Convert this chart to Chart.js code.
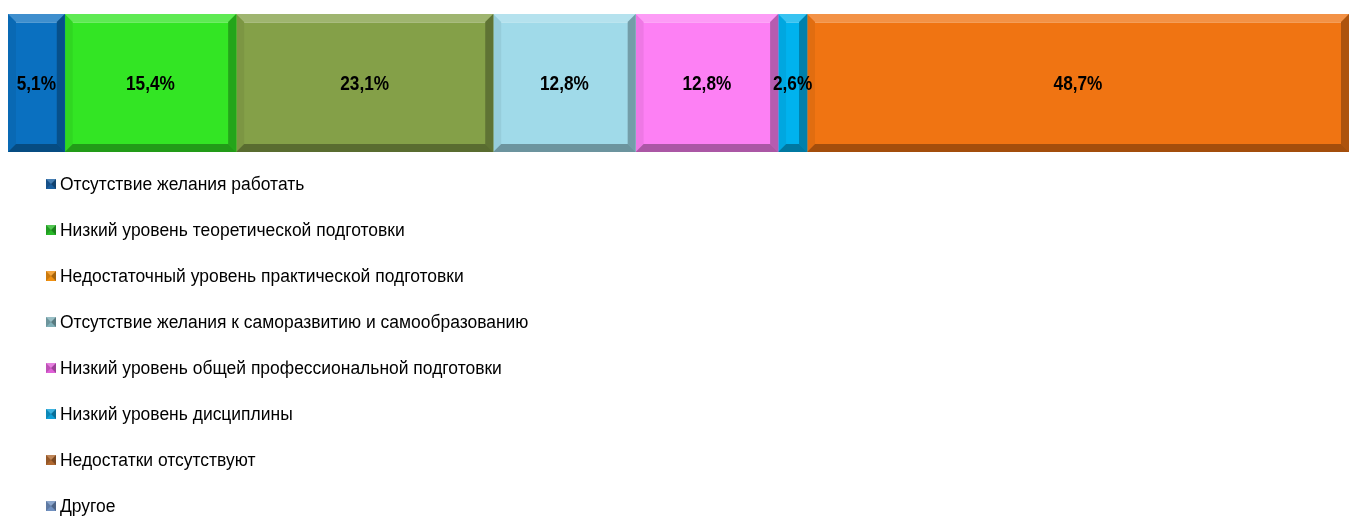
<!DOCTYPE html>
<html>
<head>
<meta charset="utf-8">
<script src="https://cdn.jsdelivr.net/npm/chart.js@4/dist/chart.umd.min.js"></script>
<style>
    html, body { margin: 0; padding: 0; background: #ffffff; }
    #wrap { width: 1349px; height: 518px; }
</style>
</head>
<body>
<div id="wrap"><canvas id="barChart" width="1349" height="518"></canvas></div>
<script>
// legend order, one entry per category
const categories = [
    'Отсутствие желания работать',
    'Низкий уровень теоретической подготовки',
    'Недостаточный уровень практической подготовки',
    'Отсутствие желания к саморазвитию и самообразованию',
    'Низкий уровень общей профессиональной подготовки',
    'Низкий уровень дисциплины',
    'Недостатки отсутствуют',
    'Другое'
];
const values = [5.1, 15.4, 23.1, 12.8, 12.8, 2.6, 48.7, 0];
const barColors = ['#0a70c0', '#33e524', '#84a048', '#a0dae9', '#fd80f4', '#00b2ee', '#f07412', '#6f8fc0'];
const legendColors = ['#1a5fa0', '#28b828', '#f09010', '#80b0b8', '#e060d8', '#10a0d8', '#b06830', '#7090c0'];

const total = values.reduce((a, b) => a + b, 0);

function fmt(v) { return v.toFixed(1).replace('.', ',') + '%'; }

// bevelled look of the segments + labels + legend
const bevelPlugin = {
    id: 'bevel',
    afterDatasetsDraw(chart) {
        const ctx = chart.ctx;
        chart.data.datasets.forEach((ds, i) => {
            const meta = chart.getDatasetMeta(i);
            meta.data.forEach((bar, j) => {
                if (!ds.data[j]) return;
                const p = bar.getProps(['x', 'y', 'base', 'height'], true);
                const l = Math.min(p.base, p.x), r = Math.max(p.base, p.x);
                const t = p.y - p.height / 2, b = p.y + p.height / 2;
                const w = Math.min(8, (r - l) / 2);
                ctx.save();
                ctx.fillStyle = 'rgba(255,255,255,0.22)';
                ctx.beginPath(); ctx.moveTo(l, t); ctx.lineTo(r, t); ctx.lineTo(r - w, t + w); ctx.lineTo(l + w, t + w); ctx.fill();
                ctx.fillStyle = 'rgba(0,0,0,0.32)';
                ctx.beginPath(); ctx.moveTo(l, b); ctx.lineTo(r, b); ctx.lineTo(r - w, b - w); ctx.lineTo(l + w, b - w); ctx.fill();
                ctx.fillStyle = 'rgba(0,0,0,0.06)';
                ctx.beginPath(); ctx.moveTo(l, t); ctx.lineTo(l + w, t + w); ctx.lineTo(l + w, b - w); ctx.lineTo(l, b); ctx.fill();
                ctx.fillStyle = 'rgba(0,0,0,0.28)';
                ctx.beginPath(); ctx.moveTo(r, t); ctx.lineTo(r - w, t + w); ctx.lineTo(r - w, b - w); ctx.lineTo(r, b); ctx.fill();
                ctx.fillStyle = 'rgba(255,255,255,0.3)';
                ctx.fillRect(l + w, t + w, r - l - 2 * w, 1);
                ctx.restore();
            });
        });
    },
    afterDraw(chart) {
        const ctx = chart.ctx;
        // value labels, narrow bold
        chart.data.datasets.forEach((ds, i) => {
            const meta = chart.getDatasetMeta(i);
            meta.data.forEach((bar, j) => {
                const v = ds.data[j];
                if (!v) return;
                const p = bar.getProps(['x', 'y', 'base'], true);
                const cx = (p.x + p.base) / 2;
                ctx.save();
                ctx.translate(cx, p.y + 1);
                ctx.scale(0.82, 1);
                ctx.font = 'bold 21px "Liberation Sans", Arial, sans-serif';
                ctx.fillStyle = '#000000';
                ctx.textAlign = 'center';
                ctx.textBaseline = 'middle';
                ctx.fillText(fmt(v), 0, 0);
                ctx.restore();
            });
        });
        // legend, one row per category
        const x0 = 46, y0 = 184, step = 46, box = 10;
        categories.forEach((name, i) => {
            const y = y0 + i * step;
            const c = legendColors[i];
            ctx.save();
            ctx.fillStyle = c;
            ctx.fillRect(x0, y - box / 2, box, box);
            ctx.fillStyle = 'rgba(0,0,0,0.3)';
            ctx.beginPath(); ctx.moveTo(x0 + box, y - box / 2); ctx.lineTo(x0 + box / 2, y); ctx.lineTo(x0 + box, y + box / 2); ctx.fill();
            ctx.fillStyle = 'rgba(0,0,0,0.15)';
            ctx.beginPath(); ctx.moveTo(x0, y - box / 2); ctx.lineTo(x0 + box / 2, y); ctx.lineTo(x0, y + box / 2); ctx.fill();
            ctx.fillStyle = 'rgba(255,255,255,0.2)';
            ctx.beginPath(); ctx.moveTo(x0, y - box / 2); ctx.lineTo(x0 + box, y - box / 2); ctx.lineTo(x0 + box / 2, y); ctx.fill();
            ctx.translate(x0 + box + 4, y + 1);
            ctx.scale(0.97, 1);
            ctx.font = '18px "Liberation Sans", Arial, sans-serif';
            ctx.fillStyle = '#000000';
            ctx.textBaseline = 'middle';
            ctx.fillText(name, 0, 0);
            ctx.restore();
        });
    }
};

const ctx = document.getElementById('barChart').getContext('2d');
new Chart(ctx, {
    type: 'bar',
    data: {
        labels: [''],
        datasets: categories.map((name, i) => ({
            label: name,
            data: [values[i]],
            backgroundColor: barColors[i],
            borderWidth: 0,
            barPercentage: 1,
            categoryPercentage: 1
        }))
    },
    options: {
        indexAxis: 'y',
        responsive: false,
        animation: false,
        layout: { padding: { left: 8, right: 0, top: 14, bottom: 366 } },
        scales: {
            x: { stacked: true, min: 0, max: total, display: false },
            y: { stacked: true, display: false }
        },
        plugins: {
            legend: { display: false },
            tooltip: { enabled: false }
        }
    },
    plugins: [bevelPlugin]
});
</script>
</body>
</html>
